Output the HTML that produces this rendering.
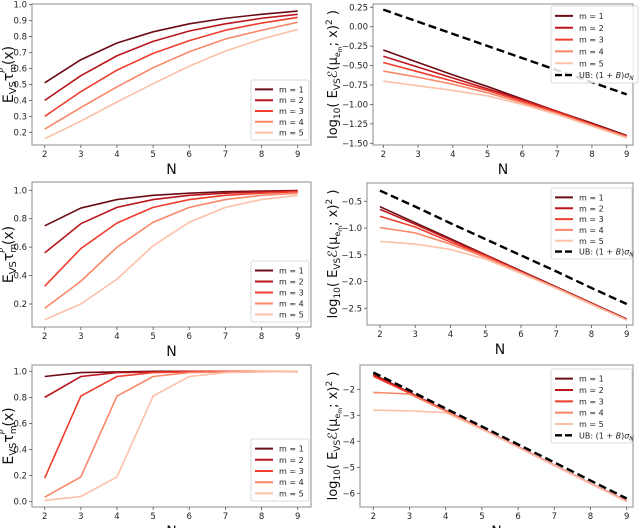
<!DOCTYPE html>
<html><head><meta charset="utf-8">
<style>
html,body{margin:0;padding:0;background:#fff;}
svg{display:block;font-family:"DejaVu Sans","Liberation Sans",sans-serif;}
</style></head>
<body>
<svg id="fig" width="640" height="528" viewBox="0 0 640 528" xmlns="http://www.w3.org/2000/svg"></svg>
<script>
const xCats = [2,3,4,5,6,7,8,9];
const seriesLabels = ["m = 1","m = 2","m = 3","m = 4","m = 5"];
const colors = ["#6b0c15","#bb161d","#f03e2e","#fa8767","#fcc0a8"];

const p1Series = [
 [0.51,0.655,0.76,0.83,0.88,0.915,0.94,0.96],
 [0.40,0.555,0.68,0.77,0.835,0.88,0.915,0.94],
 [0.30,0.455,0.59,0.695,0.775,0.84,0.885,0.92],
 [0.22,0.355,0.485,0.605,0.705,0.785,0.84,0.89],
 [0.16,0.27,0.39,0.505,0.615,0.71,0.785,0.845]];
const p1Ticks = [0.2,0.3,0.4,0.5,0.6,0.7,0.8,0.9,1.0];
const p1TickLabels = ["0.2","0.3","0.4","0.5","0.6","0.7","0.8","0.9","1.0"];

const p2Series = [
 [-0.30,-0.46,-0.62,-0.77,-0.93,-1.09,-1.24,-1.40],
 [-0.38,-0.52,-0.66,-0.80,-0.94,-1.09,-1.25,-1.41],
 [-0.46,-0.58,-0.70,-0.82,-0.96,-1.10,-1.26,-1.41],
 [-0.57,-0.65,-0.74,-0.85,-0.98,-1.12,-1.27,-1.42],
 [-0.70,-0.76,-0.82,-0.89,-1.00,-1.13,-1.28,-1.43]];
const p2UB = [0.22,0.064,-0.092,-0.248,-0.404,-0.56,-0.716,-0.87];
const p2Ticks = [-1.5,-1.25,-1.0,-0.75,-0.5,-0.25,0,0.25];
const p2TickLabels = ["\u22121.50","\u22121.25","\u22121.00","\u22120.75","\u22120.50","\u22120.25","0.00","0.25"];

const p3Series = [
 [0.75,0.875,0.935,0.965,0.98,0.99,0.995,0.998],
 [0.56,0.765,0.88,0.935,0.965,0.98,0.99,0.995],
 [0.325,0.59,0.77,0.88,0.935,0.965,0.98,0.99],
 [0.17,0.36,0.60,0.775,0.88,0.935,0.965,0.98],
 [0.09,0.20,0.375,0.61,0.775,0.88,0.935,0.965]];
const p3Ticks = [0.2,0.4,0.6,0.8,1.0];
const p3TickLabels = ["0.2","0.4","0.6","0.8","1.0"];

const p4Series = [
 [-0.60,-0.90,-1.20,-1.50,-1.80,-2.10,-2.40,-2.70],
 [-0.65,-0.93,-1.22,-1.51,-1.81,-2.11,-2.41,-2.71],
 [-0.78,-0.98,-1.26,-1.52,-1.82,-2.11,-2.41,-2.71],
 [-0.99,-1.09,-1.30,-1.55,-1.83,-2.12,-2.42,-2.72],
 [-1.25,-1.30,-1.40,-1.58,-1.85,-2.13,-2.43,-2.72]];
const p4UB = [-0.30,-0.60,-0.91,-1.21,-1.51,-1.81,-2.12,-2.42];
const p4Ticks = [-2.5,-2.0,-1.5,-1.0,-0.5];
const p4TickLabels = ["\u22122.5","\u22122.0","\u22121.5","\u22121.0","\u22120.5"];

const p5Series = [
 [0.96,0.99,0.995,1,1,1,1,1],
 [0.80,0.96,0.99,0.995,1,1,1,1],
 [0.18,0.81,0.96,0.99,0.995,1,1,1],
 [0.035,0.19,0.81,0.96,0.99,0.995,1,1],
 [0.01,0.04,0.19,0.81,0.96,0.99,0.995,1]];
const p5Ticks = [0,0.2,0.4,0.6,0.8,1.0];
const p5TickLabels = ["0.0","0.2","0.4","0.6","0.8","1.0"];

const p6Series = [
 [-1.42,-2.12,-2.82,-3.52,-4.22,-4.92,-5.62,-6.30],
 [-1.45,-2.13,-2.82,-3.52,-4.22,-4.92,-5.62,-6.30],
 [-1.50,-2.15,-2.83,-3.52,-4.22,-4.92,-5.62,-6.31],
 [-2.12,-2.18,-2.84,-3.53,-4.23,-4.93,-5.63,-6.31],
 [-2.80,-2.83,-2.90,-3.54,-4.23,-4.93,-5.63,-6.32]];
const p6UB = [-1.35,-2.04,-2.74,-3.43,-4.12,-4.81,-5.51,-6.20];
const p6Ticks = [-6,-5,-4,-3,-2];
const p6TickLabels = ["\u22126","\u22125","\u22124","\u22123","\u22122"];

const NS="http://www.w3.org/2000/svg";
const fig=document.getElementById('fig');
function mk(tag,attrs,parent){const e=document.createElementNS(NS,tag);for(const k in attrs)e.setAttribute(k,attrs[k]);(parent||fig).appendChild(e);return e;}

function panel(o){
  const g=mk('g',{});
  
  
  const sx=v=>o.x2px[0]+(v-2)*(o.x2px[1]-o.x2px[0])/7;
  const sy=v=>o.y0px+(v-o.y0v)*(o.y1px-o.y0px)/(o.y1v-o.y0v);
  o.series.forEach((s,i)=>{
    const p=mk('polyline',{points:s.map((v,j)=>sx(xCats[j])+','+sy(v)).join(' '),fill:'none',stroke:colors[i],'stroke-width':1.6,'stroke-linejoin':'round'},g);
    
    
  });
  if(o.ub){
    const p=mk('polyline',{points:o.ub.map((v,j)=>sx(xCats[j])+','+sy(v)).join(' '),fill:'none',stroke:'#000','stroke-width':2.4,'stroke-dasharray':'8,4'},g);
    
    
  }
  const fr=mk('rect',{x:o.box[0],y:o.box[1],width:o.box[2]-o.box[0],height:o.box[3]-o.box[1],fill:'none',stroke:'#8c8c8c','stroke-width':1},g);
  
  
  xCats.forEach(c=>{
    const x=sx(c);
    mk('line',{x1:x,x2:x,y1:o.box[3],y2:o.box[3]+3,stroke:'#555','stroke-width':0.8},g);
    const t=mk('text',{x:x,y:o.box[3]+12,'font-size':8.5,'text-anchor':'middle',fill:'#222'},g);
    t.textContent=c;
    
    
  });
  o.ticks.forEach((v,i)=>{
    const y=sy(v);
    mk('line',{x1:o.box[0]-3,x2:o.box[0],y1:y,y2:y,stroke:'#555','stroke-width':0.8},g);
    const t=mk('text',{x:o.box[0]-5,y:y+3,'font-size':8.5,'text-anchor':'end',fill:'#222'},g);
    t.textContent=o.tickLabels[i];
    
    
  });
  const xl=mk('text',{x:(o.box[0]+o.box[2])/2,y:o.box[3]+29,'font-size':14,'text-anchor':'middle',fill:'#111'},g);
  xl.textContent='N';
  
  
  const yl=mk('text',{transform:'translate('+o.ylx+','+((o.box[1]+o.box[3])/2)+') rotate(-90)','font-size':o.log?13:14,'text-anchor':'middle',fill:'#111'},g);
  
  
  if(o.log){
    yl.innerHTML='log<tspan font-size="9" dy="3">10</tspan><tspan dy="-3">( E</tspan><tspan font-size="9" dy="3">VS</tspan><tspan dy="-3" font-style="italic">ℰ</tspan>(μ<tspan font-size="8" dy="3">e</tspan><tspan font-size="6" dy="2">m</tspan><tspan dy="-5">; x)</tspan><tspan font-size="9" dy="-5">2</tspan><tspan dy="5"> )</tspan>';
  } else {
    yl.innerHTML='E<tspan font-size="10" dy="3">VS</tspan><tspan dy="-3">τ</tspan><tspan font-size="9" dy="3">m</tspan><tspan font-size="8" font-style="italic" dx="-9" dy="-11">P</tspan><tspan dx="3" dy="8">(x)</tspan>';
  }
  const L=o.leg, n=o.ub?6:5, rowH=(L[3]-L[1]-6)/n;
  const lg=mk('g',{},g);
  
  
  mk('rect',{x:L[0],y:L[1],width:L[2]-L[0],height:L[3]-L[1],rx:2,fill:'#fff','fill-opacity':0.85,stroke:'#d0d0d0','stroke-width':0.8},lg);
  for(let i=0;i<n;i++){
    const y=L[1]+4+rowH*(i+0.5);
    const isUB=i===5;
    const e=mk('g',{},lg);
    
    
    mk('line',{x1:L[0]+4,x2:L[0]+22,y1:y,y2:y,stroke:isUB?'#000':colors[i],'stroke-width':isUB?2.4:2,'stroke-dasharray':isUB?'7,3':'none'},e);
    const t=mk('text',{x:L[0]+28,y:y+3,'font-size':8,fill:'#222'},e);
    if(isUB) t.innerHTML='UB: (1 + <tspan font-style="italic">B</tspan>)<tspan font-style="italic">σ</tspan><tspan font-size="6" dy="2" font-style="italic">N</tspan>';
    else t.textContent=seriesLabels[i];
  }
}

panel({name:'panel-top-left',series:p1Series,ticks:p1Ticks,tickLabels:p1TickLabels,box:[32,4,311,145],x2px:[44.7,297.7],y0v:1.0,y0px:4.7,y1v:0.2,y1px:132.3,ylx:13,leg:[251,80,309,140]});
panel({name:'panel-top-right',series:p2Series,ub:p2UB,log:true,ticks:p2Ticks,tickLabels:p2TickLabels,box:[373,4,633,145],x2px:[383.3,626.7],y0v:0.25,y0px:7.3,y1v:-1.5,y1px:143.3,ylx:337,leg:[551,6,638,83]});
panel({name:'panel-middle-left',series:p3Series,ticks:p3Ticks,tickLabels:p3TickLabels,box:[32,182,311,327],x2px:[44.7,297.7],y0v:1.0,y0px:190.3,y1v:0.2,y1px:304,ylx:13,leg:[251,261,309,322]});
panel({name:'panel-middle-right',series:p4Series,ub:p4UB,log:true,ticks:p4Ticks,tickLabels:p4TickLabels,box:[367,183,633,325],x2px:[380,626.7],y0v:-0.5,y0px:201.3,y1v:-2.5,y1px:308.3,ylx:337,leg:[551,188,632,259]});
panel({name:'panel-bottom-left',series:p5Series,ticks:p5Ticks,tickLabels:p5TickLabels,box:[32,365,311,507],x2px:[44.7,297.7],y0v:1.0,y0px:371.3,y1v:0.0,y1px:501.7,ylx:13,leg:[251,439,309,501]});
panel({name:'panel-bottom-right',series:p6Series,ub:p6UB,log:true,ticks:p6Ticks,tickLabels:p6TickLabels,box:[360,365,633,507],x2px:[373.3,626.7],y0v:-2,y0px:389.3,y1v:-6,y1px:493.3,ylx:337,leg:[551,369,632,443]});
</script>
</body></html>
